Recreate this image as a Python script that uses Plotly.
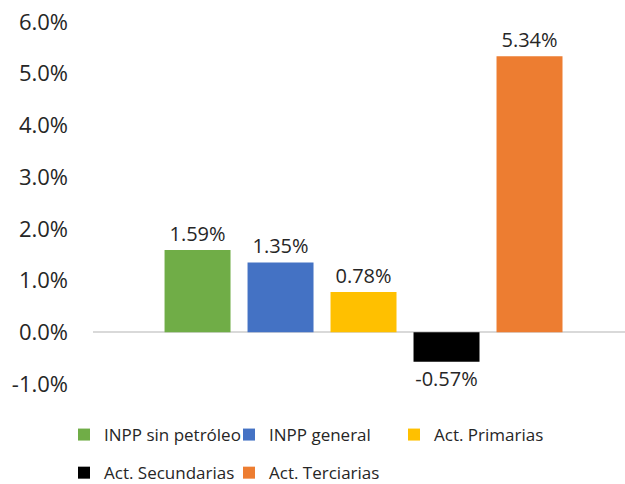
import plotly.graph_objects as go

series_names = ["INPP sin petróleo", "INPP general", "Act. Primarias", "Act. Secundarias", "Act. Terciarias"]
series_values = [1.59, 1.35, 0.78, -0.57, 5.34]
series_colors = ["#70AD47", "#4472C4", "#FFC000", "#000000", "#ED7D31"]
legend_slots = ["legend", "legend2", "legend3", "legend", "legend2"]
tick_vals = [-1, 0, 1, 2, 3, 4, 5, 6]
tick_text = ["-1.0%", "0.0%", "1.0%", "2.0%", "3.0%", "4.0%", "5.0%", "6.0%"]
category = [""]

FONT = "Open Sans, Noto Sans, sans-serif"

fig = go.Figure()
for i, (name, val, col) in enumerate(zip(series_names, series_values, series_colors)):
    fig.add_trace(go.Bar(
        x=category, y=[val], name=name, marker=dict(color=col, line=dict(width=0)),
        text=[f"{val:.2f}%"], textposition="outside",
        textfont=dict(size=20, color="#262626", family=FONT),
        cliponaxis=False,
        legend=legend_slots[i], legendgroup=f"g{i}",
    ))

leg_common = dict(orientation="v", xref="container", yref="container",
                  xanchor="left", yanchor="top", y=0.1384,
                  tracegroupgap=13, traceorder="grouped",
                  font=dict(size=17, color="#262626", family=FONT),
                  itemsizing="constant", bgcolor="rgba(0,0,0,0)")

fig.update_layout(
    width=625, height=484,
    margin=dict(l=93, r=0, t=22, b=100, autoexpand=False),
    paper_bgcolor="white", plot_bgcolor="white",
    barmode="group", bargap=0.22, bargroupgap=0.205,
    font=dict(family=FONT, color="#262626"),
    showlegend=True,
    legend=dict(x=0.1024, **leg_common),
    legend2=dict(x=0.3664, **leg_common),
    legend3=dict(x=0.6304, **leg_common),
    xaxis=dict(range=[-0.5085, 0.4915], showticklabels=False, showgrid=False,
               zeroline=False, showline=False, fixedrange=True),
    yaxis=dict(range=[-1, 6], tickvals=tick_vals, ticktext=tick_text,
               showgrid=False, zeroline=True, zerolinecolor="#D9D9D9", zerolinewidth=2,
               showline=False, ticks="", ticklabelstandoff=24, ticklabeloverflow="allow",
               tickfont=dict(size=22, color="#262626", family=FONT)),
)

fig.write_html("out.html", config={"displayModeBar": False},
               post_script="document.body.style.margin='0';")
